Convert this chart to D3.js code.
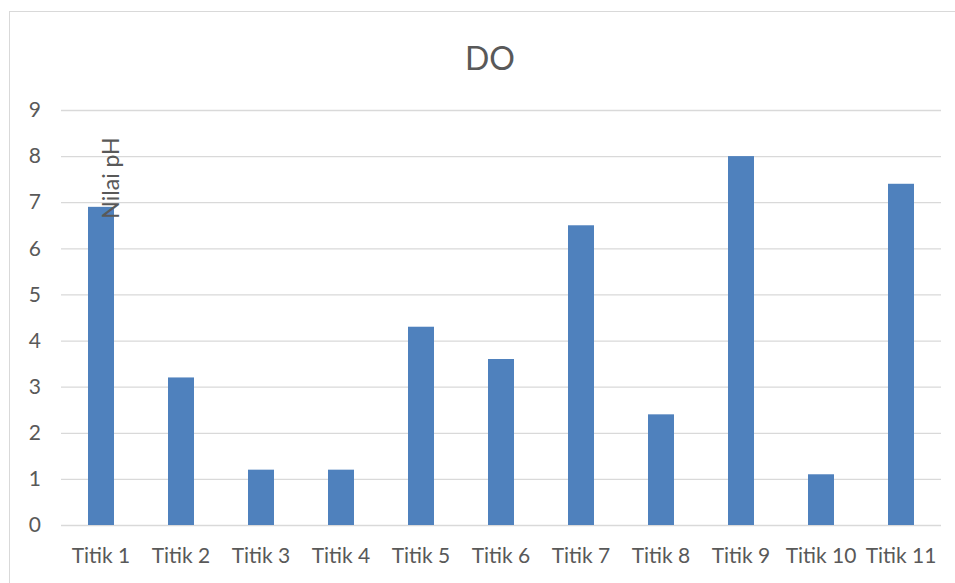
<!DOCTYPE html>
<html>
<head>
<meta charset="utf-8">
<script src="https://cdn.jsdelivr.net/npm/d3@7"></script>
<style>
  body { margin: 0; background: #fff; }
  svg text { font-family: Lato, "Open Sans", sans-serif; fill: #595959; }
</style>
</head>
<body>
<div id="vis"></div>
<script>
// DO per titik
const categories = ["Titik 1", "Titik 2", "Titik 3", "Titik 4", "Titik 5", "Titik 6",
                    "Titik 7", "Titik 8", "Titik 9", "Titik 10", "Titik 11"];
const values = [6.9, 3.2, 1.2, 1.2, 4.3, 3.6, 6.5, 2.4, 8.0, 1.1, 7.4];
const yTicks = [0, 1, 2, 3, 4, 5, 6, 7, 8, 9];

const FRAME_WIDTH = 955;
const FRAME_HEIGHT = 583;
const MARGINS = {left: 61, right: 14, top: 110, bottom: 58};

const svg = d3.select("#vis")
  .append("svg")
    .attr("width", FRAME_WIDTH)
    .attr("height", FRAME_HEIGHT);

// chart area border (runs off the right and bottom edges)
svg.append("rect")
  .attr("x", 9.5).attr("y", 11.5)
  .attr("width", 1000).attr("height", 1000)
  .attr("fill", "#fff")
  .attr("stroke", "#d9d9d9");

const X_SCALE = d3.scaleBand()
  .domain(categories)
  .range([MARGINS.left, FRAME_WIDTH - MARGINS.right])
  .paddingInner(0.675)
  .paddingOuter(0.3375);

const Y_SCALE = d3.scaleLinear()
  .domain([0, 9])
  .range([FRAME_HEIGHT - MARGINS.bottom, MARGINS.top]);

// gridlines + y labels
const yAxis = svg.append("g")
  .attr("transform", "translate(" + MARGINS.left + ",0)")
  .call(d3.axisLeft(Y_SCALE)
    .tickValues(yTicks)
    .tickSize(-(FRAME_WIDTH - MARGINS.left - MARGINS.right))
    .tickPadding(20));
yAxis.select(".domain").remove();
yAxis.selectAll("line").attr("stroke", "#d9d9d9").attr("stroke-width", 1.3);
yAxis.selectAll("text")
  .attr("font-size", 21)
  .attr("font-family", "Lato, sans-serif")
  .attr("fill", "#595959");

// bars
svg.selectAll(".bar")
  .data(values)
  .enter()
  .append("rect")
    .attr("class", "bar")
    .attr("x", (d, i) => X_SCALE(categories[i]))
    .attr("y", (d) => Y_SCALE(d))
    .attr("width", X_SCALE.bandwidth())
    .attr("height", (d) => Y_SCALE(0) - Y_SCALE(d))
    .attr("fill", "#4f81bd");

// x labels
const xAxis = svg.append("g")
  .attr("transform", "translate(0," + (FRAME_HEIGHT - MARGINS.bottom) + ")")
  .call(d3.axisBottom(X_SCALE).tickSize(0).tickPadding(23));
xAxis.select(".domain").remove();
xAxis.selectAll("text")
  .attr("font-size", 21)
  .attr("font-family", "Lato, sans-serif")
  .attr("fill", "#595959");

// title
svg.append("text")
  .attr("x", 490)
  .attr("y", 70)
  .attr("text-anchor", "middle")
  .attr("font-size", 32)
  .text("DO");

// y axis title, sits over the first bar like in the original
svg.append("text")
  .attr("transform", "translate(119,178) rotate(-90)")
  .attr("text-anchor", "middle")
  .attr("font-size", 23)
  .text("Nilai pH");
</script>
</body>
</html>
